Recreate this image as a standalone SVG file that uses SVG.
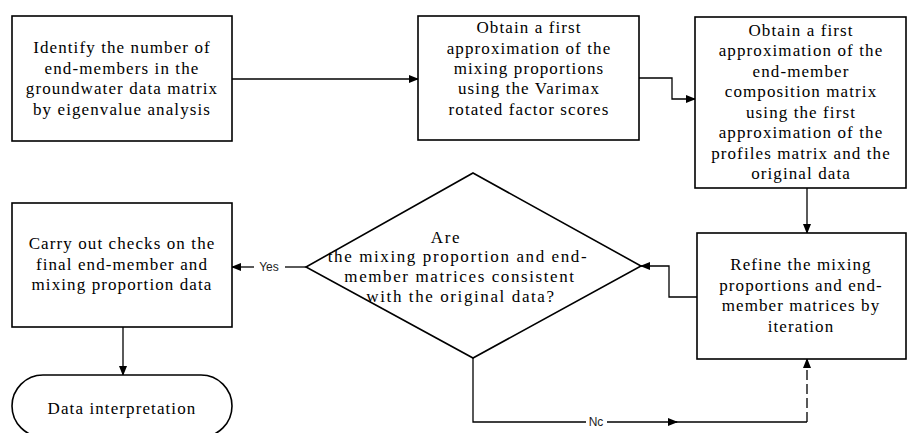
<svg xmlns="http://www.w3.org/2000/svg" width="908" height="433" viewBox="0 0 908 433">
<style>
.box{fill:#fff;stroke:#000;stroke-width:1.6}
.t{font-family:"Liberation Serif","Times New Roman",serif;font-size:17px;letter-spacing:1.1px;fill:#000;text-anchor:middle}
.d{letter-spacing:1.6px}
.lbl{font-family:"Liberation Sans",Arial,sans-serif;font-size:12px;fill:#222;text-anchor:middle}
.c{fill:none;stroke:#000;stroke-width:1.3}
</style>
<defs>
<marker id="ah" markerWidth="10" markerHeight="8" refX="9" refY="4" orient="auto" markerUnits="userSpaceOnUse">
<path d="M0,0 L10,4 L0,8 Z" fill="#000"/>
</marker>
</defs>
<rect width="908" height="433" fill="#fff"/>
<g id="connectors">
<path class="c" d="M232,79 L418,79" marker-end="url(#ah)"/>
<path class="c" d="M639,78 L672,78 L672,99 L695,99" marker-end="url(#ah)"/>
<path class="c" d="M807,188 L807,233" marker-end="url(#ah)"/>
<path class="c" d="M697,297 L669,297 L669,266 L641,266" marker-end="url(#ah)"/>
<path class="c" d="M306,267 L285,267"/>
<path class="c" d="M254,267 L232,267" marker-end="url(#ah)"/>
<text class="lbl" x="269" y="271">Yes</text>
<path class="c" d="M123,327 L123,375" marker-end="url(#ah)"/>
<path class="c" d="M473,358 L473,422 L586,422"/>
<text class="lbl" x="596" y="426">Nc</text>
<path class="c" d="M607,422 L677,422" marker-end="url(#ah)"/>
<path class="c" d="M675,422 L807,422"/>
<path class="c" d="M807,422 L807,359" stroke-dasharray="10,4" marker-end="url(#ah)"/>
</g>
<g id="n1">
<rect class="box" x="12" y="16" width="220" height="125"/>
<text class="t" x="122" y="53">Identify the number of</text>
<text class="t" x="122" y="74">end-members in the</text>
<text class="t" x="122" y="94">groundwater data matrix</text>
<text class="t" x="122" y="115">by eigenvalue analysis</text>
</g>
<g id="n2">
<rect class="box" x="418" y="16" width="221" height="124"/>
<text class="t" x="529" y="33">Obtain a first</text>
<text class="t" x="529" y="54">approximation of the</text>
<text class="t" x="529" y="74">mixing proportions</text>
<text class="t" x="529" y="94">using the Varimax</text>
<text class="t" x="529" y="115">rotated factor scores</text>
</g>
<g id="n3">
<rect class="box" x="695" y="17" width="211" height="171"/>
<text class="t" x="801" y="36">Obtain a first</text>
<text class="t" x="801" y="56">approximation of the</text>
<text class="t" x="801" y="77">end-member</text>
<text class="t" x="801" y="97">composition matrix</text>
<text class="t" x="801" y="118">using the first</text>
<text class="t" x="801" y="138">approximation of the</text>
<text class="t" x="801" y="159">profiles matrix and the</text>
<text class="t" x="801" y="179">original data</text>
</g>
<g id="n4">
<rect class="box" x="697" y="233" width="209" height="126"/>
<text class="t" x="801" y="270">Refine the mixing</text>
<text class="t" x="801" y="291">proportions and end-</text>
<text class="t" x="801" y="311">member matrices by</text>
<text class="t" x="801" y="332">iteration</text>
</g>
<g id="n5">
<polygon class="box" points="473,173 641,266 473,358 306,267"/>
<text class="t d" x="446" y="243">Are</text>
<text class="t d" x="458" y="262">the mixing proportion and end-</text>
<text class="t d" x="460" y="282">member matrices consistent</text>
<text class="t d" x="461" y="302">with the original data?</text>
</g>
<g id="n6">
<rect class="box" x="12" y="203" width="220" height="124"/>
<text class="t" x="122" y="249">Carry out checks on the</text>
<text class="t" x="122" y="270">final end-member and</text>
<text class="t" x="122" y="290">mixing proportion data</text>
</g>
<g id="n7">
<rect class="box" x="12" y="375" width="220" height="62" rx="31" ry="31"/>
<text class="t" x="122" y="414">Data interpretation</text>
</g>
</svg>
